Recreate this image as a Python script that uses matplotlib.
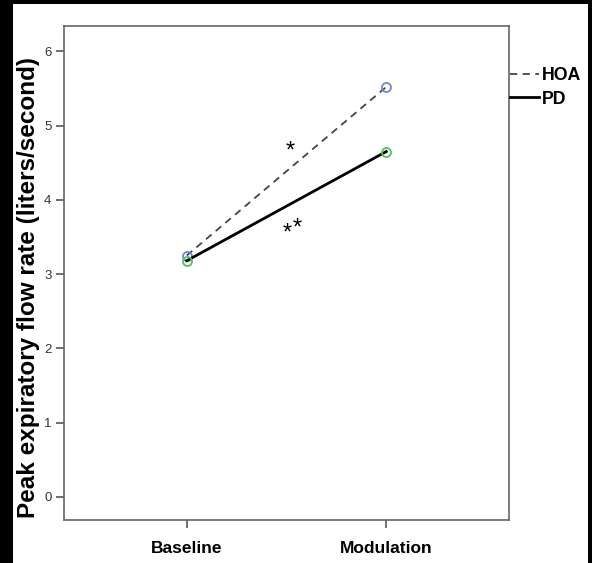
import numpy as np
import matplotlib.pyplot as plt
from matplotlib.patches import Rectangle

conditions = ["Baseline", "Modulation"]
hoa = [3.25, 5.52]
pd_vals = [3.18, 4.65]
yticks = [0, 1, 2, 3, 4, 5, 6]

plt.rcParams['font.family'] = ['Liberation Sans', 'DejaVu Sans']

W, H = 592, 563
fig = plt.figure(figsize=(W / 100, H / 100), dpi=100)
fig.patch.set_facecolor('black')
# white page inside the black frame
fig.patches.append(Rectangle((13 / W, 0), (588 - 13) / W, (H - 4) / H,
                             transform=fig.transFigure, facecolor='white',
                             edgecolor='none', zorder=-1))

ax = fig.add_axes([64 / W, 1 - 520 / H, (509 - 64) / W, (520 - 26) / H])
x = np.arange(1, len(conditions) + 1)

ax.plot(x, hoa, color='#444444', linestyle=(0, (4, 3)), linewidth=1.3,
        marker='o', markersize=6.5, markerfacecolor='none',
        markeredgecolor='#6f86d6', markeredgewidth=1.3, label='HOA')
ax.plot(x, pd_vals, color='black', linewidth=2.0,
        marker='o', markersize=6.5, markerfacecolor='none',
        markeredgecolor='#55c055', markeredgewidth=1.3, label='PD')

ax.set_xlim(0.385, 2.615)
ax.set_ylim(-0.31, 6.34)
ax.set_xticks(x)
ax.set_xticklabels(conditions, fontsize=12.5, fontweight='bold')
ax.set_yticks(yticks)
ax.set_yticklabels([str(t) for t in yticks], fontsize=9.5, color='#333333')
ax.tick_params(axis='both', direction='out', length=6, width=1.2,
               color='#555555', pad=3)
ax.tick_params(axis='x', pad=9)
for s in ax.spines.values():
    s.set_color('#666666')
    s.set_linewidth(1.2)

ax.set_ylabel("Peak expiratory flow rate (liters/second)", fontsize=17.5,
              fontweight='bold')
ax.yaxis.set_label_coords(-24 / 445, 0.47)

# significance markers
ax.text(1.52, 4.65, "*", fontsize=17, ha='center', va='center')
ax.text(1.505, 3.55, "*", fontsize=17, ha='center', va='center')
ax.text(1.555, 3.62, "*", fontsize=17, ha='center', va='center')

leg = ax.legend(loc='upper left', bbox_to_anchor=(1.002, 0.916), frameon=False,
                handlelength=1.65, handletextpad=0.15, labelspacing=0.35,
                fontsize=12.8, borderaxespad=0, borderpad=0)
for line in leg.get_lines():
    line.set_marker('')
for t in leg.get_texts():
    t.set_fontweight('bold')

fig.savefig('out.png', dpi=100, facecolor=fig.get_facecolor())
